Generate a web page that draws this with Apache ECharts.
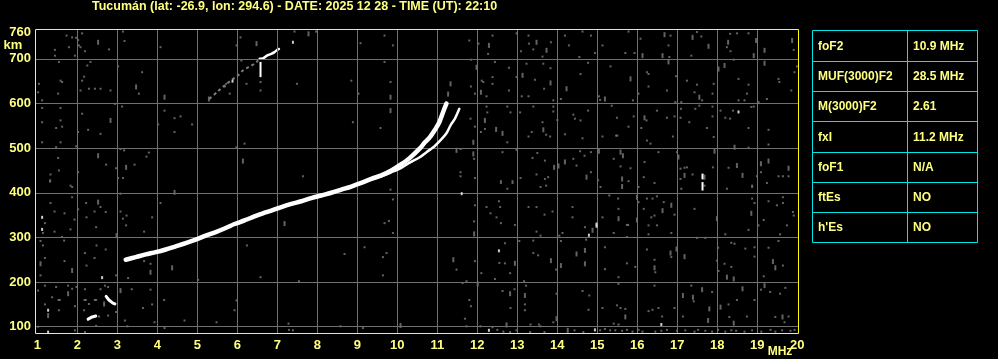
<!DOCTYPE html>
<html><head><meta charset="utf-8">
<script src="https://cdn.jsdelivr.net/npm/echarts@6/dist/echarts.min.js"></script>
<style>html,body{margin:0;padding:0;background:#000;}#c{width:998px;height:359px;}</style>
</head><body><div id="c"></div>
<script>
const titleText = 'Tucumán (lat: -26.9, lon: 294.6) - DATE: 2025 12 28 - TIME (UT): 22:10';
const xTickLabels = [1,2,3,4,5,6,7,8,9,10,11,12,13,14,15,16,17,18,19,20];
const yTickLabels = [100,200,300,400,500,600,700,760];
const xGridValues = [2,3,4,5,6,7,8,9,10,11,12,13,14,15,16,17,18,19];
const yGridValues = [100,200,300,400,500,600,700];
const tableLabels = ['foF2','MUF(3000)F2','M(3000)F2','fxI','foF1','ftEs',"h'Es"];
const tableValues = ['10.9 MHz','28.5 MHz','2.61','11.2 MHz','N/A','NO','NO'];

// F2 ordinary trace (MHz, km)
const oTrace = [[3.21,250],[3.46,256],[3.71,262],[3.96,267],[4.21,273],[4.46,280],[4.71,287],[4.96,295],[5.21,304],[5.46,312],[5.71,321],[5.93,330],[6.18,338],[6.43,347],[6.64,354],[6.85,360],[7.1,368],[7.35,375],[7.6,381],[7.85,388],[8.1,394],[8.35,400],[8.6,407],[8.85,414],[9.1,422],[9.35,431],[9.6,439],[9.85,450],[10.1,464],[10.3,477],[10.57,500],[10.69,513],[10.82,525],[10.94,541],[11.05,558],[11.15,582],[11.23,600]];
// F2 extraordinary trace
const xTrace = [[9.6,437],[9.85,446],[10.1,456],[10.3,467],[10.57,480],[10.73,491],[10.9,502],[11.07,517],[11.22,532],[11.33,551],[11.44,566],[11.55,588]];
// second hop (faint)
const hopTrace = [[5.3,610],[5.5,626],[5.69,641],[5.85,652],[6.02,663],[6.14,674],[6.27,681],[6.43,689],[6.52,696]];
const hopTraceBright = [[6.56,700],[6.64,701],[6.74,707],[6.85,711],[6.93,715],[7.0,720],[7.04,722]];
const lowTraceA = [[2.27,117],[2.37,122],[2.46,124]];
const lowTraceB = [[2.72,168],[2.79,160],[2.89,153],[2.94,151]];
const whiteBars = [[[6.58,659],[6.58,693]],[[17.63,430],[17.63,443]],[[17.63,405],[17.63,424]]];
const whiteDots = [[1.12,345],[1.12,318],[2.62,210],[1.27,137],[1.27,88],[11.61,398],[12.54,270],[14.79,305],[12.29,92],[14.94,93],[16.6,105],[18.53,581],[7.39,737],[5.88,650],[14.98,330],[14.98,325]];

const noiseDots = [
[1.73,752],[1.87,748],[1.97,747],[2.02,742],[2.12,757],[2.04,730],[2.08,726],[2.19,717],[1.44,720],[1.44,707],[1.79,726],[1.94,707],[2.79,721],[3.14,761],[3.18,740],[1.54,693],[1.58,651],[1.62,648],[1.04,644],[1.02,625],[1.12,607],[1.52,622],[2.17,660],[2.12,651],[2.25,685],[2.33,693],[2.08,629],[2.29,633],[2.44,633],[2.58,633],[2.83,629],[3.02,683],[3.54,622],[3.62,670],[4.08,726],[5.69,638],[5.72,644],
[1.12,590],[1.58,590],[1.12,558],[1.47,545],[1.62,548],[1.58,562],[2.12,577],[2.02,536],[2.27,541],[2.58,532],[2.94,599],[3.12,593],[4.02,553],[4.18,584],[4.43,567],[4.58,571],[4.43,536],[4.87,553],
[1.12,513],[1.47,502],[1.58,513],[1.97,504],[1.52,478],[1.54,450],[1.33,441],[1.32,428],[1.32,425],[1.83,416],[1.87,413],[2.02,446],[2.72,463],[2.97,455],[3.02,433],[3.14,433],[3.08,498],[3.17,495],[3.43,463],[3.73,481],[3.79,490],
[1.87,390],[1.33,377],[1.43,358],[1.68,354],[1.93,340],[2.02,363],[2.22,377],[2.23,345],[2.43,358],[2.58,368],[2.47,323],[2.71,357],[3.08,398],[3.08,358],[3.14,342],[3.23,349],[3.22,327],[3.67,313],[3.87,345],[4.08,377],[1.19,332],[1.14,310],[1.43,313],[1.62,301],[1.67,293],[1.83,318],
[1.08,292],[1.14,282],[1.19,254],[1.08,215],[1.68,247],[2.19,265],[2.23,237],[2.43,254],[2.48,282],[2.71,273],[2.97,215],[3.27,209],[3.67,247],[3.83,241],[5.02,205],
[1.02,181],[1.19,192],[1.37,166],[1.47,189],[1.77,192],[1.87,185],[1.98,189],[2.19,184],[2.58,184],[2.69,192],[2.77,189],[3.36,184],[3.83,183],[4.17,160],[1.53,160],[1.56,160],[2.18,160],[2.21,160],[2.44,160],[2.47,160],[1.19,150],[1.54,137],[1.94,146],[2.17,137],[2.29,151],[2.97,133],[2.77,125],[2.47,102],[2.54,123],[3.19,114],[3.25,101],[3.64,142],[3.87,150],[3.93,110],[4.18,97],[4.68,114],[5.48,110],[1.94,92],[2.19,88],[1.02,100],
[6.08,748],[7.43,761],[7.97,761],[5.98,730],[6.1,696],[6.23,644],[6.58,648],[6.58,629],[7.49,644],[5.81,622],[8.85,651],[9.03,622],[9.08,735],[9.68,752],[9.89,730],[9.68,693],[9.83,648],[9.58,545],[8.89,558],[6.18,510],[5.98,502],[7.64,437],[9.83,407],[9.89,385],[9.68,332],[9.79,337],[9.89,310],[6.24,282],[8.68,263],[9.18,278],[9.73,265],[9.64,256],[9.64,215],[6.58,211],[7.54,202],[5.98,159],[5.93,137],[7.28,107],[7.29,93],[7.39,92],[8.58,101],[9.14,97],
[11.8,741],[12.03,734],[12.38,752],[12.27,711],[12.98,757],[13.09,717],[13.28,752],[13.29,734],[13.4,721],[13.84,737],[14.19,752],[14.29,730],[14.63,761],[14.84,752],[14.94,713],[15.13,730],[14.55,704],[13.63,705],[11.84,698],[12.11,651],[12.15,648],[12.38,659],[12.38,644],[12.23,616],[11.94,622],[11.84,638],[12.44,693],[12.79,680],[12.98,659],[13.23,689],[13.44,653],[12.79,629],[13.11,616],[13.28,616],[13.65,689],[13.83,679],[13.67,633],[13.9,607],[14.09,610],[14.58,666],[14.77,691],[15.04,616],[15.07,608],[15.33,683],[15.36,595],
[11.83,566],[11.94,548],[12.09,536],[12.25,580],[12.23,593],[12.19,543],[12.75,593],[12.83,580],[12.75,513],[12.98,496],[13.07,580],[13.28,526],[13.36,536],[13.4,593],[13.63,558],[13.72,530],[13.82,526],[13.9,593],[13.9,582],[14.0,563],[14.19,531],[14.4,575],[14.44,566],[14.58,562],[14.77,584],[14.63,522],[15.13,526],
[11.58,498],[11.92,476],[12.63,491],[13.38,478],[13.5,489],[13.69,472],[14.4,476],[14.48,461],[14.57,493],[14.68,483],[14.84,491],[14.84,446],[15.02,428],[15.08,413],[15.3,394],[13.48,441],[13.69,431],[13.77,435],[13.72,416],[13.58,413],[12.88,426],[12.88,422],[12.59,426],[12.59,422],[12.75,409],[13.08,433],[11.94,433],[11.58,446],[11.58,437],
[11.94,372],[12.23,368],[12.33,354],[12.54,381],[12.57,368],[12.48,345],[12.59,332],[12.94,328],[13.28,368],[13.48,368],[13.68,351],[13.88,358],[13.48,313],[13.58,304],[14.05,304],[14.13,310],[14.38,368],[14.38,345],[14.69,323],[15.13,345],[11.92,336],
[12.69,287],[13.05,292],[13.4,293],[14.09,292],[14.72,295],[15.19,278],[13.52,260],[13.4,265],[13.97,228],[15.19,229],[11.48,228],[11.94,247],[12.1,220],[12.44,207],[12.55,243],[12.69,242],[12.82,220],[13.17,202],[11.73,202],[11.63,198],[13.22,192],[12.63,180],[12.93,184],[13.19,150],[13.19,137],[11.8,160],[11.84,146],[12.83,142],[13.98,174],[14.63,180],[14.8,170],[14.78,138],[15.13,142],[13.9,110],[13.33,105],[13.54,105],[13.58,101],[11.69,118],[11.73,101],[12.08,101],[12.38,99],[12.5,93],[12.65,89],[12.82,88],[12.98,92],[13.32,88],[13.68,88],[14.43,92],[14.65,88],[15.07,92],[15.19,95],[15.32,92],
[15.7,713],[15.78,761],[15.93,713],[16.08,745],[16.83,752],[16.78,730],[16.8,704],[17.49,760],[17.6,750],[17.35,707],[18.24,726],[18.33,717],[18.32,756],[18.49,757],[18.78,757],[19.91,720],[18.41,698],
[16.03,622],[16.24,670],[16.28,666],[16.28,638],[16.74,629],[16.97,661],[17.24,651],[17.43,625],[17.49,642],[17.62,607],[17.91,644],[17.88,622],[18.53,655],[18.78,642],[18.74,622],[18.53,607],[18.68,607],[19.03,603],[19.53,655],[19.55,648],[19.85,629],[19.93,670],[19.99,683],[19.24,610],[15.89,607],[16.95,603],[17.1,603],
[15.49,568],[15.78,548],[15.91,571],[16.23,562],[16.1,545],[16.49,584],[16.74,568],[16.93,571],[16.89,526],[17.09,588],[17.08,568],[17.3,558],[17.45,588],[17.55,595],[17.74,545],[17.88,593],[17.88,571],[17.91,525],[18.08,584],[18.2,568],[18.32,566],[18.39,584],[18.78,545],[18.91,593],[18.85,592],[19.28,541],[15.47,528],[15.5,528],[16.24,517],[16.33,510],[16.53,491],[18.78,501],[19.28,508],
[15.41,476],[15.58,459],[15.83,455],[15.78,426],[16.03,413],[16.16,435],[16.43,422],[16.18,469],[16.99,491],[17.08,454],[17.18,456],[17.24,457],[17.38,441],[17.08,431],[17.1,409],[17.68,416],[17.89,457],[18.28,456],[18.24,409],[18.87,416],[18.99,437],[19.09,446],[19.24,422],[19.53,437],[19.64,437],[19.78,437],[18.87,413],
[15.52,387],[15.53,364],[16.03,379],[16.24,387],[16.38,387],[16.49,392],[16.66,379],[16.93,351],[16.16,364],[16.35,345],[16.43,349],[15.74,328],[15.77,328],[15.41,310],[15.74,301],[16.28,327],[16.28,307],[16.49,327],[16.85,310],[17.43,364],[18.2,307],[18.78,317],[18.87,387],[18.93,377],[19.03,327],[19.16,339],[19.28,381],[19.49,372],[19.64,390],[19.64,377],[19.74,327],[19.57,307],[19.89,357],[19.91,349],
[17.49,299],[17.7,299],[16.85,256],[16.24,273],[16.43,250],[16.45,222],[15.95,234],[15.74,242],[15.53,211],[18.02,277],[17.99,248],[18.03,225],[18.18,241],[18.35,234],[18.35,288],[18.43,286],[18.7,275],[18.93,278],[18.93,257],[19.28,277],[19.53,292],[19.64,237],[19.16,213],
[15.53,196],[16.43,192],[17.35,192],[17.41,157],[17.87,178],[18.28,150],[18.49,160],[18.93,160],[19.09,183],[19.32,178],[19.57,174],[19.7,187],[15.49,148],[15.7,140],[15.58,142],[16.28,135],[16.38,138],[16.53,142],[16.93,142],[16.62,123],[17.14,123],[18.3,122],[18.74,123],[19.45,122],[19.68,110],[19.78,123],[15.41,107],[15.53,105],
[15.45,92],[15.62,91],[15.74,93],[15.88,89],[16.03,93],[16.13,89],[16.45,89],[16.6,91],[16.74,93],[16.99,91],[17.2,92],[17.43,89],[17.52,93],[17.7,91],[17.87,89],[18.02,93],[18.2,89],[18.35,92],[18.47,91],[18.68,89],[18.87,92],[19.1,89],[19.33,93],[19.45,89],[19.62,92],[19.83,91],[19.93,93]
];
const noiseDashes = [
[2.52,737],[3.47,637],[4.18,614],[5.29,610],[2.83,562],[2.52,483],[3.22,457],[2.52,379],[2.98,304],[4.43,401],[1.08,241],[1.87,226],[3.83,222],[4.37,232],[1.77,174],[3.08,181],[2.67,151],[1.27,125],
[6.48,734],[7.78,756],[9.83,614],[9.83,584],[6.14,471],[7.18,331],[10.08,103],
[12.29,730],[13.48,737],[13.73,719],[11.98,681],[12.09,625],[13.13,663],[13.83,646],[14.23,633],[15.19,610],[11.9,513],[12.19,562],[12.47,542],[12.63,533],[13.65,541],[11.48,495],[11.9,487],[13.92,457],[14.03,460],[14.19,469],[15.04,493],[14.73,435],[14.88,316],[11.92,308],[14.48,263],[14.69,271],[13.84,248],[14.09,237],[14.69,241],[11.4,250],[12.94,242],[12.01,196],[12.82,174],[13.19,170],[13.98,118],[12.73,104],[14.26,92],[11.27,621],[11.33,644],
[16.13,707],[16.68,754],[16.63,707],[17.38,748],[17.78,728],[18.27,737],[18.97,741],[18.91,707],[19.87,741],[19.18,719],[15.83,655],[16.78,693],[17.55,614],[18.18,685],[18.03,677],[19.18,690],[16.18,568],[18.43,502],[15.58,491],[15.64,483],[15.62,431],[15.62,414],[17.03,480],[17.18,439],[17.68,435],[17.93,493],[18.49,461],[18.63,439],[19.09,465],[19.28,471],[19.78,455],[15.99,390],[16.63,360],[16.85,372],[15.53,342],[15.99,339],[17.99,342],[18.85,354],[16.98,274],[16.83,265],[17.18,257],[16.43,232],[19.39,246],[19.45,232],[18.24,211],[18.41,207],[17.39,166],[17.14,170],[18.08,144],[18.63,185],[19.18,192],[17.62,183],[17.8,140],[17.77,114],[18.41,108],[19.63,122],[15.7,122]
];

const YEL = '#ffff80', FONT = 'Liberation Sans';
const chart = echarts.init(document.getElementById('c'), null, {renderer: 'canvas'});

const rowTops = [30,61,91,121,152,182,212,242];
const tblX0 = 812.5, tblX1 = 977.5, tblXm = 907.5, CY = '#00e6e6';
const tableGraphics = [];
tableGraphics.push({type:'rect', shape:{x:tblX0, y:rowTops[0]+0.5, width:tblX1-tblX0, height:rowTops[7]-rowTops[0]}, style:{fill:'none', stroke:CY, lineWidth:1}});
tableGraphics.push({type:'line', shape:{x1:tblXm, y1:rowTops[0], x2:tblXm, y2:rowTops[7]}, style:{stroke:CY, lineWidth:1}});
for (let i = 1; i < 7; i++) {
  tableGraphics.push({type:'line', shape:{x1:tblX0, y1:rowTops[i]+0.5, x2:tblX1, y2:rowTops[i]+0.5}, style:{stroke:CY, lineWidth:1}});
}
tableLabels.forEach((t, i) => {
  const cy = (rowTops[i] + rowTops[i+1]) / 2 + 1;
  tableGraphics.push({type:'text', x:818, y:cy, style:{text:t, fill:YEL, font:'bold 12px ' + FONT, textVerticalAlign:'middle'}});
  tableGraphics.push({type:'text', x:913, y:cy, style:{text:tableValues[i], fill:YEL, font:'bold 12px ' + FONT, textVerticalAlign:'middle'}});
});

const dotSeries = (data, color, size, z) => ({type:'scatter', data, symbol:'rect', symbolSize:size, itemStyle:{color}, silent:true, z, animation:false});
const lineSeries = (data, color, width, z, smooth) => ({type:'line', data, symbol:'none', smooth:smooth, lineStyle:{color, width, cap:'round'}, silent:true, z, animation:false});

const series = [
  {type:'line', data:[], silent:true, z:1, markLine:{silent:true, symbol:'none', animation:false, label:{show:false},
    lineStyle:{color:'#707070', width:1, type:'solid'},
    data: xGridValues.map(v => ({xAxis:v})).concat(yGridValues.map(v => ({yAxis:v})))}},
  dotSeries(noiseDots, '#7c7c7c', [2,2], 2),
  dotSeries(noiseDashes, '#7c7c7c', [2,5], 2),
  {type:'line', data:hopTrace, symbol:'none', smooth:0.3, lineStyle:{color:'#7c7c7c', width:2, type:[3,3]}, silent:true, z:3, animation:false},
  lineSeries(hopTraceBright, '#ffffff', 2.5, 4, 0.3),
  lineSeries(oTrace, '#ffffff', 4.5, 5, 0.3),
  lineSeries(xTrace, '#ffffff', 2.5, 5, 0.3),
  lineSeries(lowTraceA, '#ffffff', 3, 5, false),
  lineSeries(lowTraceB, '#ffffff', 3, 5, false),
  dotSeries(whiteDots, '#ffffff', [2,3], 6)
];
whiteBars.forEach(b => series.push({type:'line', data:b, symbol:'none', lineStyle:{color:'#ffffff', width:2}, silent:true, z:6, animation:false}));

chart.setOption({
  backgroundColor:'#000000',
  animation:false,
  grid:{left:36, top:30, width:762, height:303, show:false},
  xAxis:{type:'value', min:0.967, max:20.017,
    axisLine:{show:false}, axisTick:{show:false}, splitLine:{show:false},
    axisLabel:{customValues:xTickLabels, color:YEL, fontWeight:'bold', fontSize:13, fontFamily:FONT, margin:6}},
  yAxis:{type:'value', min:86, max:764.5,
    axisLine:{show:false}, axisTick:{show:false}, splitLine:{show:false},
    axisLabel:{customValues:yTickLabels, color:YEL, fontWeight:'bold', fontSize:13, fontFamily:FONT, margin:5}},
  series,
  graphic:[
    {type:'rect', z:100, shape:{x:35.5, y:29.5, width:763, height:304}, style:{fill:'none', stroke:'#ffff00', lineWidth:1}},
    {type:'text', z:100, x:92, y:0, style:{text:titleText, fill:YEL, font:'bold 12.5px ' + FONT}},
    {type:'text', z:100, x:13, y:45, style:{text:'km', fill:YEL, font:'bold 13px ' + FONT, textAlign:'center', textVerticalAlign:'middle'}},
    {type:'text', z:100, x:780, y:352, style:{text:'MHz', fill:YEL, font:'bold 12px ' + FONT, textAlign:'center', textVerticalAlign:'middle'}},
    {type:'group', z:100, children:tableGraphics}
  ]
});
</script></body></html>
